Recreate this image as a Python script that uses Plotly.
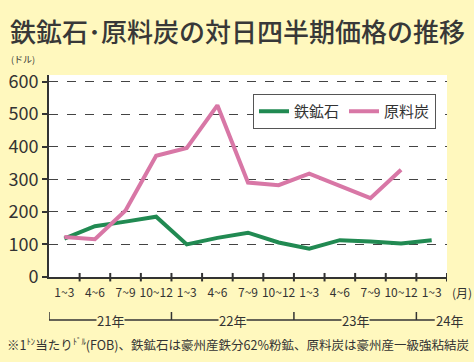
import plotly.graph_objects as go

quarters = ["1~3", "4~6", "7~9", "10~12", "1~3", "4~6", "7~9", "10~12",
            "1~3", "4~6", "7~9", "10~12", "1~3"]
iron_ore = [118, 156, 170, 185, 100, 120, 136, 106, 87, 113, 109, 103, 113]
coking_coal = [123, 116, 204, 372, 396, 527, 290, 282, 317, 280, 242, 329, None]
years = ["21年", "22年", "23年", "24年"]
year_centers = [1.5, 5.5, 9.5]
year_bounds = [-0.5, 3.5, 7.5, 11.5]

BG = "#FFF8BE"
TXT = "#333333"
FONT = "Noto Sans CJK JP"
x_idx = list(range(len(quarters)))

W, H = 474, 362
l, r, t, b = 49, 27, 75, 85
pw, ph = W - l - r, H - t - b


def px(x):
    return (x - l) / pw


def py(y):
    return (H - b - y) / ph


fig = go.Figure()
fig.add_trace(go.Scatter(x=x_idx, y=iron_ore, mode="lines", name="鉄鉱石",
                         line=dict(color="#218a52", width=4)))
fig.add_trace(go.Scatter(x=x_idx, y=coking_coal, mode="lines", name="原料炭",
                         line=dict(color="#d877a6", width=4)))

fig.update_layout(
    width=W, height=H,
    margin=dict(l=l, r=r, t=t, b=b, autoexpand=False),
    paper_bgcolor=BG, plot_bgcolor="white",
    font=dict(family=FONT, color=TXT),
    showlegend=True,
    legend=dict(orientation="h", x=px(253), y=py(94), xanchor="left", yanchor="top",
                bgcolor="white", bordercolor="#555555", borderwidth=1,
                font=dict(size=15, color=TXT), itemwidth=30),
    xaxis=dict(type="linear", range=[-0.5, 12.5], tickmode="array",
               tickvals=x_idx, ticktext=quarters, ticks="outside", ticklen=4,
               tickcolor="rgba(0,0,0,0)", showgrid=False,
               showline=True, linecolor="#333", linewidth=2, automargin=False,
               tickfont=dict(size=12, color=TXT), zeroline=False),
    yaxis=dict(range=[0, 620], tickvals=[0, 100, 200, 300, 400, 500, 600],
               ticks="outside", ticklen=5, tickcolor="#333", tickwidth=2,
               showline=True, linecolor="#333", linewidth=2, automargin=False,
               showgrid=True, gridcolor="#444", griddash="dash", gridwidth=1,
               tickfont=dict(size=18, color=TXT), zeroline=False),
)

shapes = []
for bd in [i + 0.5 for i in range(len(quarters))]:
    shapes.append(dict(type="line", xref="x", yref="paper", x0=bd, x1=bd,
                       y0=-0.022, y1=0.02, line=dict(color="#333", width=2)))
yl = py(320)
shapes.append(dict(type="line", xref="x", yref="paper", x0=-0.5, x1=12.1,
                   y0=yl, y1=yl, line=dict(color="#333", width=1.5)))
for bd in year_bounds:
    shapes.append(dict(type="line", xref="x", yref="paper", x0=bd, x1=bd,
                       y0=yl, y1=py(312), line=dict(color="#333", width=1.5)))
fig.update_layout(shapes=shapes)

ann = []
for lab, c in zip(years[:3], year_centers):
    ann.append(dict(text=lab, x=c, y=yl, xref="x", yref="paper", showarrow=False,
                    bgcolor=BG, font=dict(size=13, color=TXT), borderpad=0,
                    xanchor="center", yanchor="middle"))
ann.append(dict(text=years[3], x=12.1, y=yl, xref="x", yref="paper", showarrow=False,
                bgcolor=BG, font=dict(size=13, color=TXT), borderpad=0,
                xanchor="left", yanchor="middle"))
ann.append(dict(text="鉄鉱石･原料炭の対日四半期価格の推移", x=px(8), y=py(30),
                xref="paper", yref="paper", showarrow=False,
                font=dict(size=26, color="#383838", weight=500),
                xanchor="left", yanchor="middle"))
ann.append(dict(text="(ドル)", x=px(9), y=py(60), xref="paper", yref="paper",
                showarrow=False, font=dict(size=9, color=TXT),
                xanchor="left", yanchor="middle"))
ann.append(dict(text="(月)", x=px(450), y=py(292), xref="paper", yref="paper",
                showarrow=False, font=dict(size=12, color=TXT),
                xanchor="left", yanchor="middle"))
ann.append(dict(text="※1<sup>ﾄﾝ</sup>当たり<sup>ﾄﾞﾙ</sup>(FOB)、鉄鉱石は豪州産鉄分62%粉鉱、原料炭は豪州産一級強粘結炭",
                x=px(5), y=py(344), xref="paper", yref="paper", showarrow=False,
                font=dict(size=12.5, color=TXT), xanchor="left", yanchor="middle"))
fig.update_layout(annotations=ann)

fig.write_html("out.html", config={"displayModeBar": False},
               post_script="document.body.style.margin='0';document.body.style.padding='0';")
